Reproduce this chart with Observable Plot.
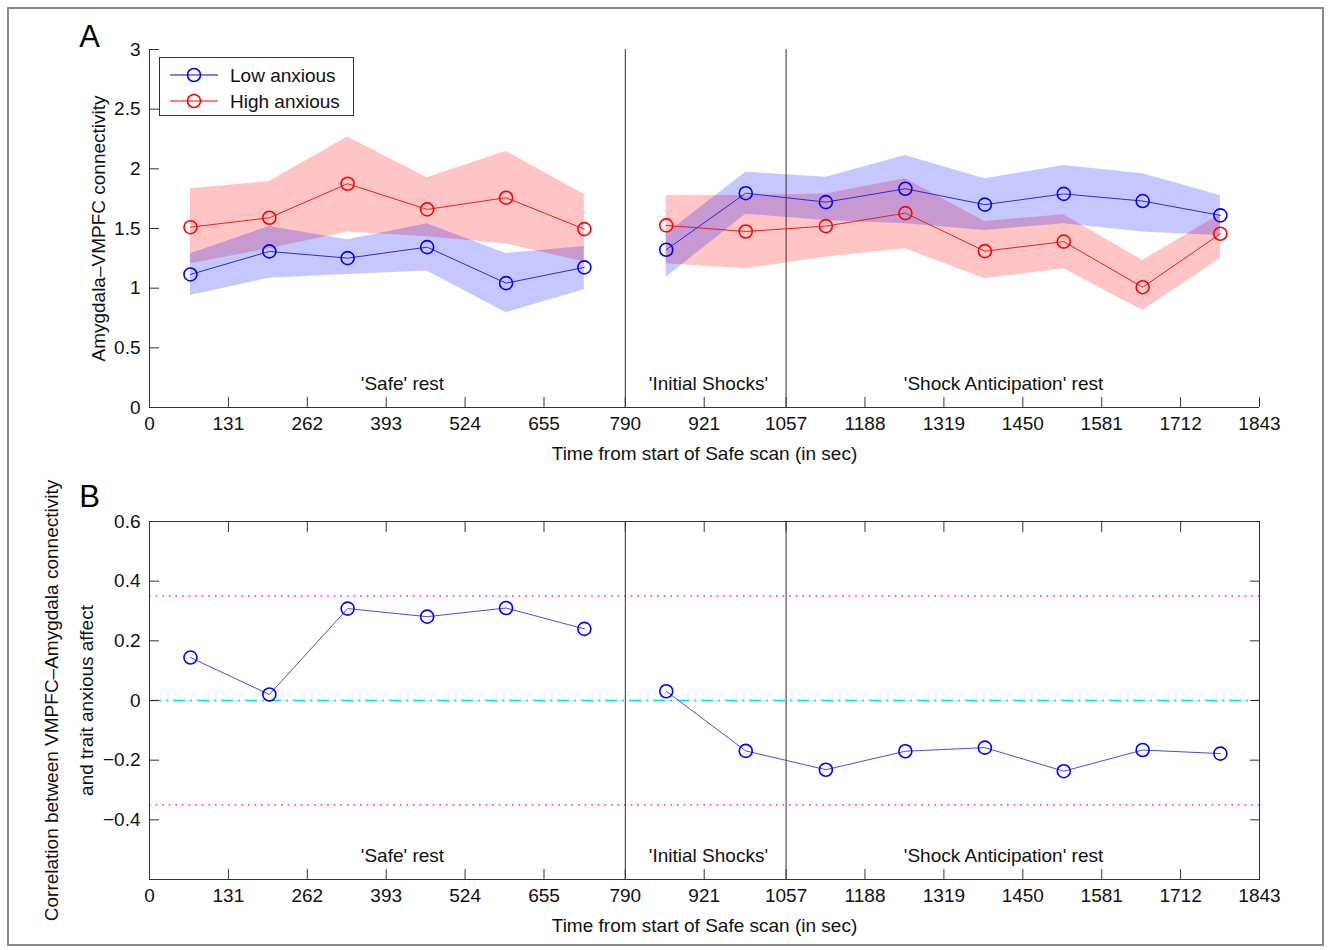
<!DOCTYPE html>
<html>
<head>
<meta charset="utf-8">
<script src="https://cdn.jsdelivr.net/npm/d3@7"></script>
<script src="https://cdn.jsdelivr.net/npm/@observablehq/plot@0.6"></script>
<style>
  body { margin: 0; background: #fff; }
  #fig { position: relative; width: 1329px; height: 950px; overflow: hidden; font-family: "Liberation Sans", Arial, Helvetica, sans-serif; background:#fff; }
  #frame { position: absolute; left: 7px; top: 7px; width: 1313px; height: 935px; border: 2px solid #8a8a8a; pointer-events: none; }
  #a { position: absolute; left: 0; top: 0; }
  #b { position: absolute; left: 0; top: 470px; }
  #legend { position: absolute; left: 159px; top: 57px; width: 193px; height: 57px; border: 1px solid #333; background: #fff; }
  #legend svg { display: block; }
</style>
</head>
<body>
<div id="fig">
  <div id="a"></div>
  <div id="b"></div>
  <div id="legend"></div>
  <div id="frame"></div>
</div>
<script>
// ---------- data ----------
const time    = [68, 199, 329, 461, 592, 722, 858, 990, 1123, 1255, 1387, 1518, 1649, 1778];
const segment = ["safe","safe","safe","safe","safe","safe","shock","shock","shock","shock","shock","shock","shock","shock"];

const lowMean  = [1.115, 1.308, 1.252, 1.344, 1.042, 1.174, 1.322, 1.796, 1.721, 1.833, 1.70, 1.79, 1.73, 1.61];
const lowUpper = [1.288, 1.517, 1.405, 1.54, 1.29, 1.35, 1.456, 1.972, 1.93, 2.112, 1.917, 2.028, 1.959, 1.777];
const lowLower = [0.939, 1.084, 1.115, 1.143, 0.794, 0.987, 1.092, 1.62, 1.567, 1.54, 1.484, 1.54, 1.47, 1.44];

const highMean  = [1.511, 1.59, 1.875, 1.66, 1.758, 1.495, 1.526, 1.475, 1.52, 1.629, 1.31, 1.39, 1.008, 1.456];
const highUpper = [1.833, 1.894, 2.266, 1.925, 2.146, 1.785, 1.777, 1.777, 1.79, 1.917, 1.559, 1.615, 1.232, 1.62];
const highLower = [1.204, 1.33, 1.47, 1.43, 1.37, 1.22, 1.204, 1.162, 1.26, 1.33, 1.078, 1.162, 0.813, 1.246];

const correlation = [0.144, 0.02, 0.308, 0.281, 0.31, 0.24, 0.031, -0.169, -0.232, -0.17, -0.158, -0.237, -0.166, -0.178];

const timeTicks = [0, 131, 262, 393, 524, 655, 790, 921, 1057, 1188, 1319, 1450, 1581, 1712, 1843];
const connTicks = [0, 0.5, 1, 1.5, 2, 2.5, 3];
const corrTicks = [-0.4, -0.2, 0, 0.2, 0.4, 0.6];
const corrFrameTicks = [-0.6, -0.4, -0.2, 0, 0.2, 0.4, 0.6];
const phaseBoundaries = [790, 1057];
const phaseLabels = ["'Safe' rest", "'Initial Shocks'", "'Shock Anticipation' rest"];
const phaseLabelTime = [420, 928, 1418];
const phaseLabelConn = 0.2;
const phaseLabelCorr = -0.52;
const sigThresholds = [-0.35, 0.35];
const seriesNames = ["Low anxious", "High anxious"];
const xTitle = "Time from start of Safe scan (in sec)";
const yTitleA = "Amygdala–VMPFC connectivity";
const yTitleB = "Correlation between VMPFC–Amygdala connectivity\nand trait anxious affect";

const rows = time.map((t, i) => ({
  t, seg: segment[i],
  lowM: lowMean[i], lowHi: lowUpper[i], lowLo: lowLower[i],
  highM: highMean[i], highHi: highUpper[i], highLo: highLower[i],
  corr: correlation[i]
}));

// ---------- styles ----------
const FONT = "'Liberation Sans', Arial, Helvetica, sans-serif";
const BLUE = "#0000ff", RED = "#ff0000";
const AX = "#333";
const fmt = d => d < 0 ? "\u2212" + String(Math.abs(d)) : String(d);
const baseStyle = { fontFamily: FONT, fontSize: "19px", color: "#111", background: "transparent", overflow: "visible" };

// ---------- panel A ----------
const plotA = Plot.plot({
  width: 1329, height: 470,
  marginTop: 49, marginBottom: 63, marginLeft: 149, marginRight: 70,
  x: { domain: [0, 1843] },
  y: { domain: [0, 3] },
  style: baseStyle,
  marks: [
    Plot.areaY(rows, { x: "t", y1: "highLo", y2: "highHi", z: "seg", fill: RED, fillOpacity: 0.23 }),
    Plot.areaY(rows, { x: "t", y1: "lowLo", y2: "lowHi", z: "seg", fill: BLUE, fillOpacity: 0.22 }),
    Plot.ruleX(phaseBoundaries, { stroke: AX, strokeWidth: 1 }),
    Plot.ruleX([0], { stroke: AX, strokeWidth: 1 }),
    Plot.ruleY([0], { stroke: AX, strokeWidth: 1 }),
    Plot.lineY(rows, { x: "t", y: "lowM", z: "seg", stroke: "#2a2ae8", strokeWidth: 1 }),
    Plot.lineY(rows, { x: "t", y: "highM", z: "seg", stroke: "#e82020", strokeWidth: 1 }),
    Plot.dot(rows, { x: "t", y: "lowM", r: 6.5, stroke: BLUE, strokeWidth: 1.6, fill: "none" }),
    Plot.dot(rows, { x: "t", y: "highM", r: 6.5, stroke: RED, strokeWidth: 1.6, fill: "none" }),
    Plot.text(phaseLabels, { x: (d, i) => phaseLabelTime[i], y: phaseLabelConn, fontSize: 19, fill: "#111" }),
    Plot.axisX({ ticks: timeTicks, tickSize: -10, tickPadding: 19, tickFormat: fmt, label: null, stroke: AX, fontSize: 19 }),
    Plot.axisY({ ticks: connTicks, tickSize: -10, tickPadding: 19, tickFormat: fmt, label: null, stroke: AX, fontSize: 19 }),
    Plot.text([xTitle], { frameAnchor: "bottom", dy: 46, lineAnchor: "middle", textAnchor: "middle", fontSize: 19, fill: "#111" }),
    Plot.text([yTitleA], { frameAnchor: "left", dx: -51, rotate: -90, lineAnchor: "middle", textAnchor: "middle", fontSize: 19, fill: "#111" }),
    Plot.text(["A"], { frameAnchor: "top-left", dx: -60, dy: -12, lineAnchor: "middle", textAnchor: "middle", fontSize: 31, fill: "#000" })
  ]
});
document.getElementById("a").appendChild(plotA);

// ---------- panel B ----------
const plotB = Plot.plot({
  width: 1329, height: 480,
  marginTop: 51, marginBottom: 71, marginLeft: 149, marginRight: 70,
  x: { domain: [0, 1843] },
  y: { domain: [-0.6, 0.6] },
  style: baseStyle,
  marks: [
    Plot.ruleY(sigThresholds, { stroke: "#f040f0", strokeWidth: 1.6, strokeDasharray: "1.6,5" }),
    Plot.ruleY([0], { stroke: "#00e0e0", strokeWidth: 1.4, strokeDasharray: "12,5,2,5" }),
    Plot.ruleX(phaseBoundaries, { stroke: AX, strokeWidth: 1 }),
    Plot.frame({ stroke: AX, strokeWidth: 1 }),
    Plot.lineY(rows, { x: "t", y: "corr", z: "seg", stroke: "#4a4ae6", strokeWidth: 1 }),
    Plot.dot(rows, { x: "t", y: "corr", r: 6.5, stroke: BLUE, strokeWidth: 1.6, fill: "none" }),
    Plot.text(phaseLabels, { x: (d, i) => phaseLabelTime[i], y: phaseLabelCorr, fontSize: 19, fill: "#111" }),
    Plot.axisX({ ticks: timeTicks, tickSize: -10, tickPadding: 19, tickFormat: fmt, label: null, stroke: AX, fontSize: 19 }),
    Plot.axisX({ anchor: "top", ticks: timeTicks, tickSize: -10, tickFormat: () => "", label: null, stroke: AX }),
    Plot.axisY({ ticks: corrTicks, tickSize: -10, tickPadding: 19, tickFormat: fmt, label: null, stroke: AX, fontSize: 19 }),
    Plot.axisY({ anchor: "right", ticks: corrFrameTicks, tickSize: -10, tickFormat: () => "", label: null, stroke: AX }),
    Plot.text([xTitle], { frameAnchor: "bottom", dy: 46, lineAnchor: "middle", textAnchor: "middle", fontSize: 19, fill: "#111" }),
    Plot.text([yTitleB], { frameAnchor: "left", dx: -85, rotate: -90, lineAnchor: "middle", textAnchor: "middle", lineHeight: 1.84, fontSize: 19, fill: "#111" }),
    Plot.text(["B"], { frameAnchor: "top-left", dx: -60, dy: -24, lineAnchor: "middle", textAnchor: "middle", fontSize: 31, fill: "#000" })
  ]
});
document.getElementById("b").appendChild(plotB);

// ---------- legend ----------
const legendColors = [BLUE, RED];
const ns = "http://www.w3.org/2000/svg";
const lsvg = document.createElementNS(ns, "svg");
lsvg.setAttribute("width", 193); lsvg.setAttribute("height", 57);
seriesNames.forEach((name, i) => {
  const yy = 17 + i * 26;
  const g = document.createElementNS(ns, "g");
  const ln = document.createElementNS(ns, "line");
  ln.setAttribute("x1", 10); ln.setAttribute("x2", 58); ln.setAttribute("y1", yy); ln.setAttribute("y2", yy);
  ln.setAttribute("stroke", legendColors[i]); ln.setAttribute("stroke-width", 1);
  const c = document.createElementNS(ns, "circle");
  c.setAttribute("cx", 34); c.setAttribute("cy", yy); c.setAttribute("r", 6.5);
  c.setAttribute("fill", "none"); c.setAttribute("stroke", legendColors[i]); c.setAttribute("stroke-width", 1.6);
  const tx = document.createElementNS(ns, "text");
  tx.setAttribute("x", 70); tx.setAttribute("y", yy); tx.setAttribute("dy", "0.35em");
  tx.setAttribute("font-family", FONT); tx.setAttribute("font-size", 19); tx.setAttribute("fill", "#111");
  tx.textContent = name;
  g.appendChild(ln); g.appendChild(c); g.appendChild(tx);
  lsvg.appendChild(g);
});
document.getElementById("legend").appendChild(lsvg);
</script>
</body>
</html>
